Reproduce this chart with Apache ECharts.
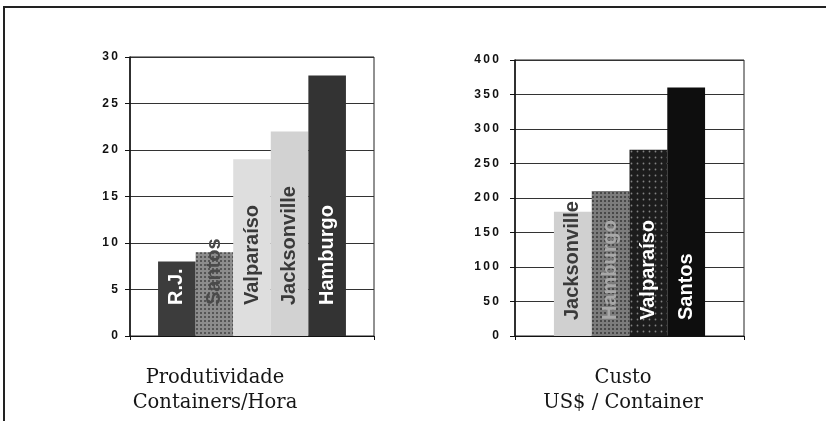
<!DOCTYPE html>
<html>
<head>
<meta charset="utf-8">
<script src="https://cdn.jsdelivr.net/npm/echarts@6/dist/echarts.min.js"></script>
<style>
  html, body { margin: 0; padding: 0; background: #fff; }
  #chart { width: 826px; height: 421px; }
</style>
</head>
<body>
<div id="chart"></div>
<script>
  // Produtividade (containers / hora)
  const prodPorts = ['R.J.', 'Santos', 'Valparaíso', 'Jacksonville', 'Hamburgo'];
  const prodValues = [8, 9, 19, 22, 28];
  // Custo (US$ / container)
  const custoPorts = ['Jacksonville', 'Hamburgo', 'Valparaíso', 'Santos'];
  const custoValues = [180, 210, 270, 360];

  const prodTitle = 'Produtividade\nContainers/Hora';
  const custoTitle = 'Custo\nUS$ / Container';

  // bar looks (scanned greyscale)
  const prodLook = [
    { color: '#3c3c3c', text: '#fff' },
    { color: '#8c8c8c', text: '#4a4a4a', decal: { symbol: 'rect', symbolSize: 1, color: 'rgba(40,40,40,0.55)', dashArrayX: [2, 2], dashArrayY: [2, 2] } },
    { color: '#dedede', text: '#3a3a3a' },
    { color: '#d2d2d2', text: '#3a3a3a' },
    { color: '#333333', text: '#fff' }
  ];
  const custoLook = [
    { color: '#d0d0d0', text: '#3a3a3a' },
    { color: '#7c7c7c', text: '#a8a8a8', decal: { symbol: 'rect', symbolSize: 1, color: 'rgba(30,30,30,0.55)', dashArrayX: [2, 2], dashArrayY: [2, 2] } },
    { color: '#1c1c1c', text: '#fff', decal: { symbol: 'circle', symbolSize: 0.6, color: 'rgba(255,255,255,0.45)', dashArrayX: [3, 3], dashArrayY: [3, 3] } },
    { color: '#0e0e0e', text: '#fff' }
  ];

  const axisFont = { fontFamily: 'Liberation Sans, Arial', fontWeight: 'bold', fontSize: 12, color: '#111' };
  const spaced = v => String(v).split('').join('\u2009');
  const titleStyle = { fontFamily: 'DejaVu Serif', fontWeight: 'normal', fontSize: 19.5, lineHeight: 25, color: '#161616' };

  function makeSeries(names, values, look, axisIdx, dist, gap) {
    return names.map((n, i) => ({
      name: n,
      type: 'bar',
      xAxisIndex: axisIdx,
      yAxisIndex: axisIdx,
      data: [values[i]],
      barGap: '0%',
      barCategoryGap: gap,
      itemStyle: Object.assign({ color: look[i].color }, look[i].decal ? { decal: look[i].decal } : {}),
      label: {
        show: true,
        formatter: '{a}',
        position: 'insideBottom',
        rotate: 90,
        align: 'left',
        verticalAlign: 'middle',
        distance: dist,
        color: look[i].text,
        fontFamily: 'Liberation Sans, Arial',
        fontWeight: 'bold',
        fontSize: 20
      },
      emphasis: { disabled: true },
      silent: true
    }));
  }

  function yAxis(idx, max, interval, margin) {
    return {
      type: 'value', gridIndex: idx, min: 0, max: max, interval: interval,
      axisLine: { show: true, lineStyle: { color: '#111', width: 1.5 } },
      axisTick: { show: true, length: 5, lineStyle: { color: '#111' } },
      axisLabel: Object.assign({ margin: margin, formatter: spaced }, axisFont),
      splitLine: { show: true, lineStyle: { color: '#333', width: 1 } }
    };
  }

  function xAxis(idx) {
    return {
      type: 'category', gridIndex: idx, data: [''],
      axisLine: { show: true, lineStyle: { color: '#111', width: 1 } },
      axisTick: { show: true, length: 4, lineStyle: { color: '#111' } },
      axisLabel: { show: false }
    };
  }

  const chart = echarts.init(document.getElementById('chart'));
  chart.setOption({
    animation: false,
    backgroundColor: '#fff',
    grid: [
      { left: 130, right: 452, top: 57, bottom: 85, show: true, borderColor: '#222', borderWidth: 1 },
      { left: 515, right: 82, top: 60, bottom: 85, show: true, borderColor: '#222', borderWidth: 1 }
    ],
    xAxis: [xAxis(0), xAxis(1)],
    yAxis: [yAxis(0, 30, 5, 12), yAxis(1, 400, 50, 16)],
    title: [
      { text: prodTitle, left: 210, top: 360, textAlign: 'center', textStyle: titleStyle },
      { text: custoTitle, left: 618, top: 360, textAlign: 'center', textStyle: titleStyle }
    ],
    graphic: [
      { type: 'polyline', shape: { points: [[4, 421], [4, 7], [826, 7]] }, style: { stroke: '#222', lineWidth: 2, fill: null } }
    ],
    series: makeSeries(prodPorts, prodValues, prodLook, 0, 31, '23%')
      .concat(makeSeries(custoPorts, custoValues, custoLook, 1, 16, '34%'))
  });
</script>
</body>
</html>
